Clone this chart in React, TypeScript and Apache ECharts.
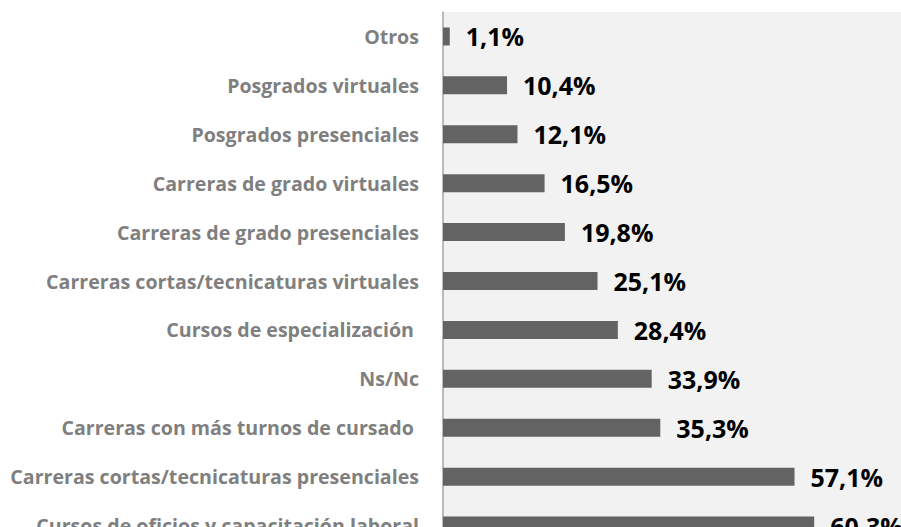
import React, { useEffect, useRef } from "react";
import * as echarts from "echarts";

const categories = [
  "Otros",
  "Posgrados virtuales",
  "Posgrados presenciales",
  "Carreras de grado virtuales",
  "Carreras de grado presenciales",
  "Carreras cortas/tecnicaturas virtuales",
  "Cursos de especialización ",
  "Ns/Nc",
  "Carreras con más turnos de cursado ",
  "Carreras cortas/tecnicaturas presenciales",
  "Cursos de oficios y capacitación laboral",
];

const values = [1.1, 10.4, 12.1, 16.5, 19.8, 25.1, 28.4, 33.9, 35.3, 57.1, 60.3];

export default function App() {
  const ref = useRef<HTMLDivElement>(null);
  useEffect(() => {
    if (!ref.current) return;
    const chart = echarts.init(ref.current, undefined, { renderer: "svg" });
    chart.setOption({
      animation: false,
      backgroundColor: "#ffffff",
      grid: {
        left: 443,
        top: 12,
        right: 0,
        bottom: 0,
        show: true,
        backgroundColor: "#f2f2f2",
        borderWidth: 0,
        containLabel: false,
      },
      xAxis: {
        type: "value",
        min: 0,
        max: 74.4,
        show: false,
        splitLine: { show: false },
      },
      yAxis: {
        type: "category",
        data: categories,
        inverse: true,
        axisTick: { show: false },
        axisLine: { show: true, lineStyle: { color: "#a6a6a6", width: 1.5 } },
        axisLabel: {
          color: "#7f7f7f",
          fontFamily: "Open Sans",
          fontWeight: "bold",
          fontSize: 19.6,
          margin: 24,
        },
      },
      series: [
        {
          type: "bar",
          data: values,
          barWidth: 18,
          itemStyle: { color: "#636363" },
          label: {
            show: true,
            position: "right",
            distance: 16,
            color: "#000000",
            fontFamily: "Open Sans",
            fontWeight: "bold",
            fontSize: 25,
            formatter: (p: any) => String(p.value.toFixed(1)).replace(".", ",") + "%",
          },
        },
      ],
    });
    return () => chart.dispose();
  }, []);
  return (
    <div
      style={{ position: "fixed", left: 0, top: 0, width: 901, height: 527, overflow: "hidden" }}
    >
      <div ref={ref} style={{ width: 901, height: 550 }} />
    </div>
  );
}
